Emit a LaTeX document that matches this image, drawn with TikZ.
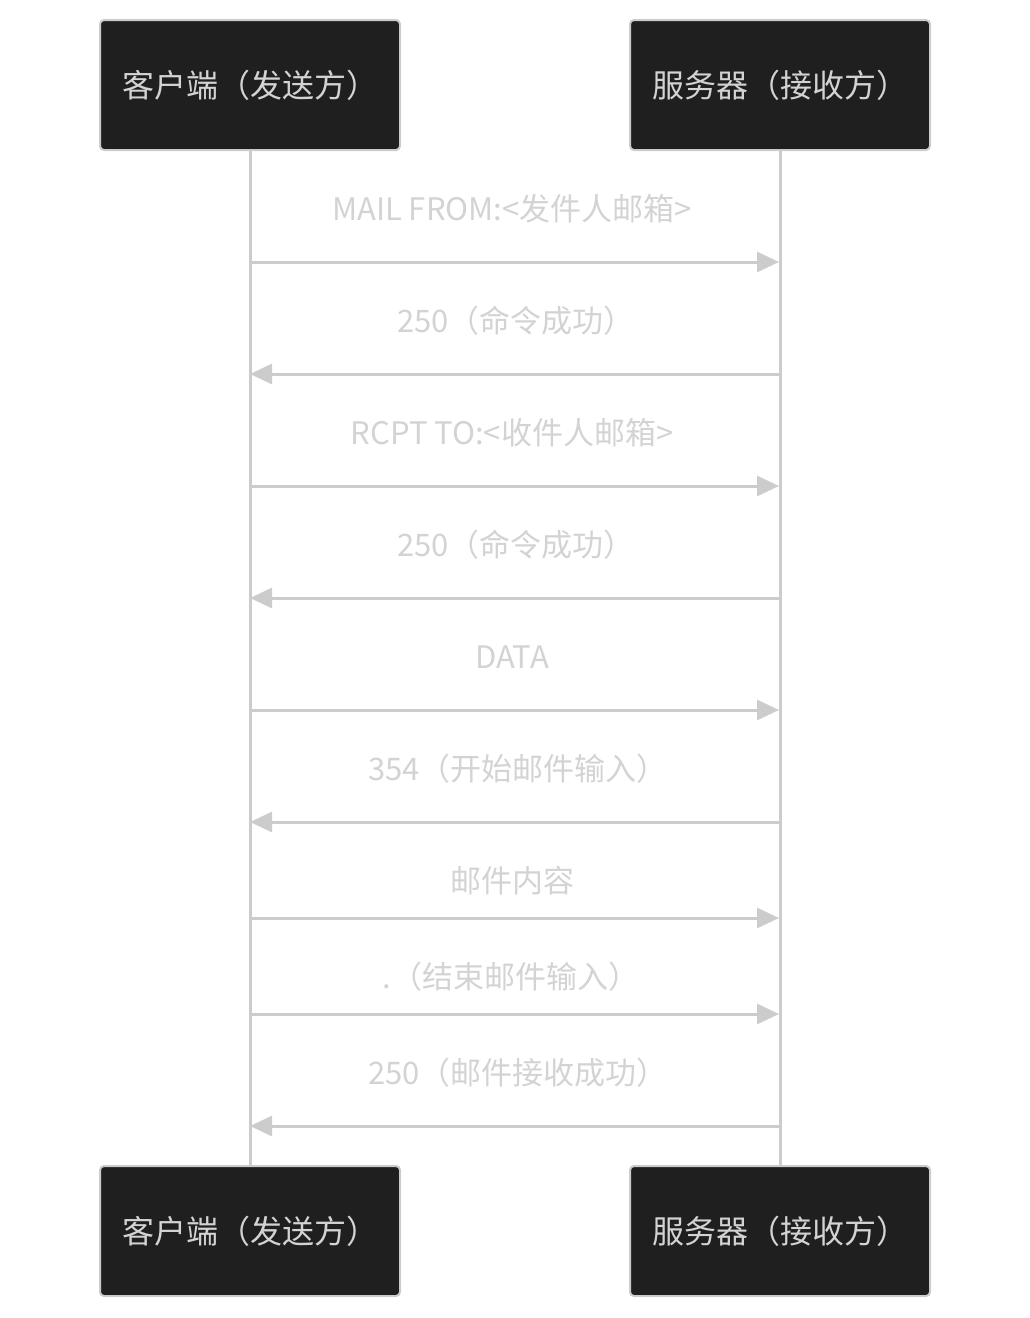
\documentclass[tikz,border=0pt]{standalone}
\usepackage{fontspec}
\setmainfont{Noto Sans CJK SC}
\usetikzlibrary{arrows.meta}
\definecolor{boxfill}{HTML}{1F1F1F}
\definecolor{linegray}{HTML}{CCCCCC}
\definecolor{textgray}{HTML}{D3D3D3}
\tikzset{
  actor/.style={draw=linegray, line width=2pt, fill=boxfill, rounded corners=4pt,
    minimum width=300pt, minimum height=130pt, text=textgray,
    font=\fontsize{32}{38}\selectfont},
  msg/.style={text=textgray, font=\fontsize{31}{36}\selectfont},
  call/.style={draw=linegray, line width=3pt, -{Triangle[length=22pt,width=20pt]}},
}
\begin{document}
\begin{tikzpicture}[x=1pt, y=-1pt]
\useasboundingbox (0,0) rectangle (1030,1318);

\node[actor] (Client 1) at (250,85) {客户端（发送方）};
\node[actor] (Server 1) at (780,85) {服务器（接收方）};
\node[actor] (Client 2) at (250,1231) {客户端（发送方）};
\node[actor] (Server 2) at (780,1231) {服务器（接收方）};

\draw[linegray, line width=3pt] (Client 1.south) -- (Client 2.north);
\draw[linegray, line width=3pt] (Server 1.south) -- (Server 2.north);

\foreach \i/\y in {1/262, 2/374, 3/486, 4/598, 5/710, 6/822, 7/918, 8/1014, 9/1126} {
  \coordinate (C \i) at (250,\y);
  \coordinate (S \i) at (779,\y);
}

\node[msg] (Label 1) at (512,209) {MAIL FROM:<发件人邮箱>};
\node[msg] (Label 2) at (516,321) {250（命令成功）};
\node[msg] (Label 3) at (512,433) {RCPT TO:<收件人邮箱>};
\node[msg] (Label 4) at (516,545) {250（命令成功）};
\node[msg] (Label 5) at (512,657) {DATA};
\node[msg] (Label 6) at (518,769) {354（开始邮件输入）};
\node[msg] (Label 7) at (512,881) {邮件内容};
\node[msg] (Label 8) at (511,977) {.（结束邮件输入）};
\node[msg] (Label 9) at (518,1073) {250（邮件接收成功）};

\draw[call] (C 1) -- (S 1);
\draw[call] (S 2) -- (C 2);
\draw[call] (C 3) -- (S 3);
\draw[call] (S 4) -- (C 4);
\draw[call] (C 5) -- (S 5);
\draw[call] (S 6) -- (C 6);
\draw[call] (C 7) -- (S 7);
\draw[call] (C 8) -- (S 8);
\draw[call] (S 9) -- (C 9);
\end{tikzpicture}
\end{document}
